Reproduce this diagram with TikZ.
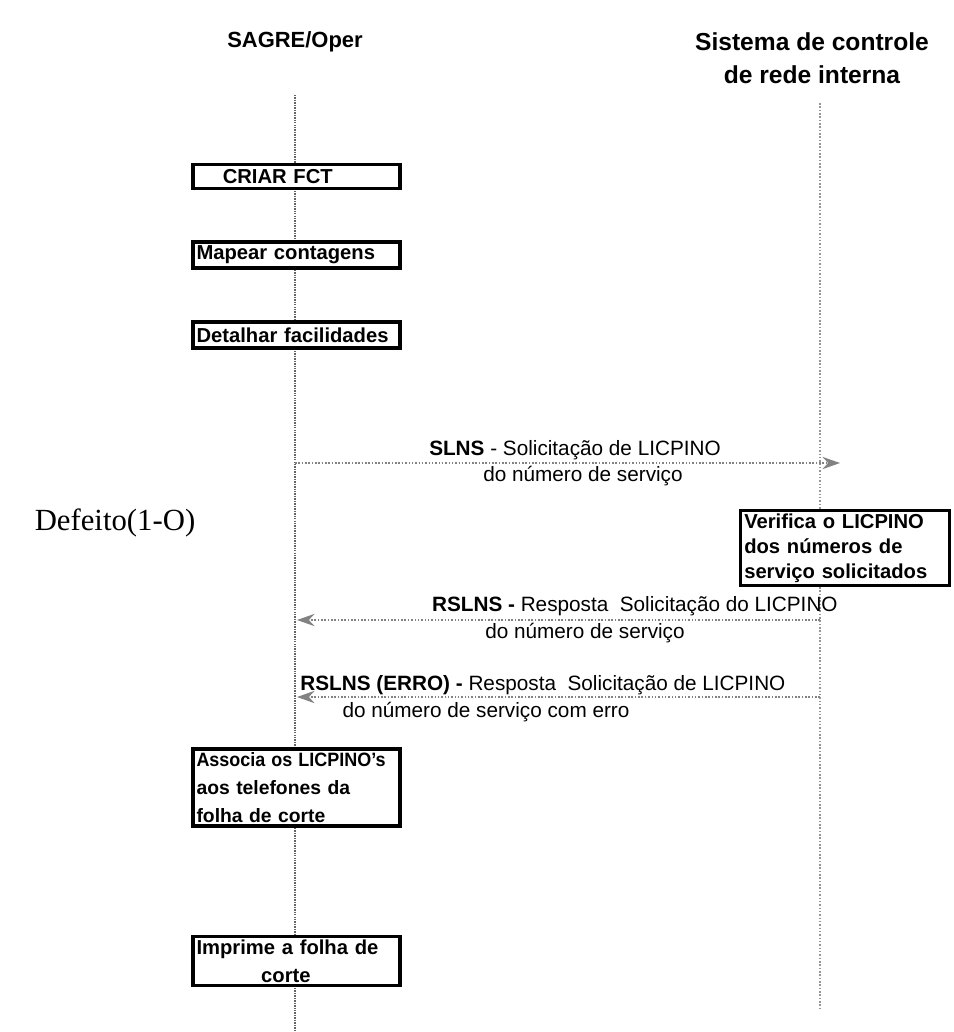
\documentclass[tikz,border=0pt]{standalone}
\usepackage{fontspec}
\setmainfont{Liberation Sans}
\newfontfamily\serifa{Liberation Serif}
\usepackage{xcolor}
\definecolor{colorl}{RGB}{100,100,100}
\definecolor{colorr}{RGB}{150,150,150}
\definecolor{colorm}{RGB}{130,130,130}
\usepackage{tikz}
\usetikzlibrary{arrows.meta}
\tikzstyle{head} = [font=\fontsize{12.5}{17}\selectfont\bfseries, align=center]
\tikzstyle{block} = [draw=black, line width=1.8pt, fill=white, font=\fontsize{11.5}{15.9}\selectfont\bfseries, align=left, text width=4.0cm, inner xsep=2pt, inner ysep=2pt]
\tikzstyle{blockR} = [block, text width=4.03cm, font=\fontsize{11.5}{14.2}\selectfont\bfseries]
\tikzstyle{lifeL} = [draw=colorl, line width=1.7pt, dash pattern=on 0.8pt off 0.6pt]
\tikzstyle{lifeR} = [draw=colorr, line width=0.9pt, densely dotted]
\tikzstyle{msg} = [draw=colorm, line width=0.9pt, densely dotted, -{Stealth[length=10pt, width=7pt]}]
\tikzstyle{lbl} = [font=\fontsize{11.8}{14}\selectfont, inner sep=0pt]

\begin{document}
\begin{tikzpicture}[x=0.02cm, y=-0.02cm]
    \useasboundingbox (0,0) rectangle (954,1032);

    % the two columns
    \node[head] (h1) at (295,42) {SAGRE/Oper};
    \node[head, font=\fontsize{14}{18.7}\selectfont\bfseries] (h2) at (812,58) {Sistema de controle\\de rede interna};
    \coordinate (a0) at (295,95);
    \coordinate (a9) at (295,1032);
    \coordinate (b0) at (820,103);
    \coordinate (b9) at (820,1010);
    \draw[lifeL] (a0) -- (a9);
    \draw[lifeR] (b0) -- (b9);

    \node[font=\fontsize{17.5}{20}\selectfont\serifa] (n0) at (115,523) {Defeito(1-O)};

    % steps of SAGRE/Oper
    \node[block, minimum height=0.48cm] (n1) at (296.5,176.5) {\hspace*{1.3em}CRIAR FCT};
    \node[block, minimum height=0.52cm] (n2) at (296.5,255) {Mapear contagens};
    \node[block, minimum height=0.52cm] (n3) at (296.5,335) {Detalhar facilidades};
    \node[block, font=\fontsize{11}{15.9}\selectfont\bfseries] (n5) at (296.5,787.5) {\scalebox{0.93}[1]{Associa os LICPINO's}\\aos telefones da\\folha de corte};
    \node[block] (n6) at (296.5,961) {Imprime a folha de\\\hspace*{3.2em}corte};

    % step of the other system
    \node[blockR] (n4) at (845,548) {Verifica o LICPINO\\dos números de\\serviço solicitados};

    % messages
    \coordinate (a1) at (295,463);
    \coordinate (b1) at (840,463);
    \draw[msg] (a1) -- (b1);
    \node[lbl, anchor=base] (m1) at (575,455) {\textbf{SLNS} - Solicitação de LICPINO};
    \node[lbl, anchor=base] (m1b) at (583,481) {do número de serviço};

    \coordinate (a2) at (297,620);
    \coordinate (b2) at (820,620);
    \draw[msg] (b2) -- (a2);
    \node[lbl, anchor=base east] (m2) at (838,611) {\textbf{RSLNS -} Resposta\ \ Solicitação do LICPINO};
    \node[lbl, anchor=base] (m2b) at (585,638) {do número de serviço};

    \coordinate (a3) at (297,697);
    \coordinate (b3) at (820,697);
    \draw[msg] (b3) -- (a3);
    \node[lbl, anchor=base west] (m3) at (300,690) {\textbf{RSLNS (ERRO) -} Resposta\ \ Solicitação de LICPINO};
    \node[lbl, anchor=base] (m3b) at (486,717) {do número de serviço com erro};
  \end{tikzpicture}
\end{document}
